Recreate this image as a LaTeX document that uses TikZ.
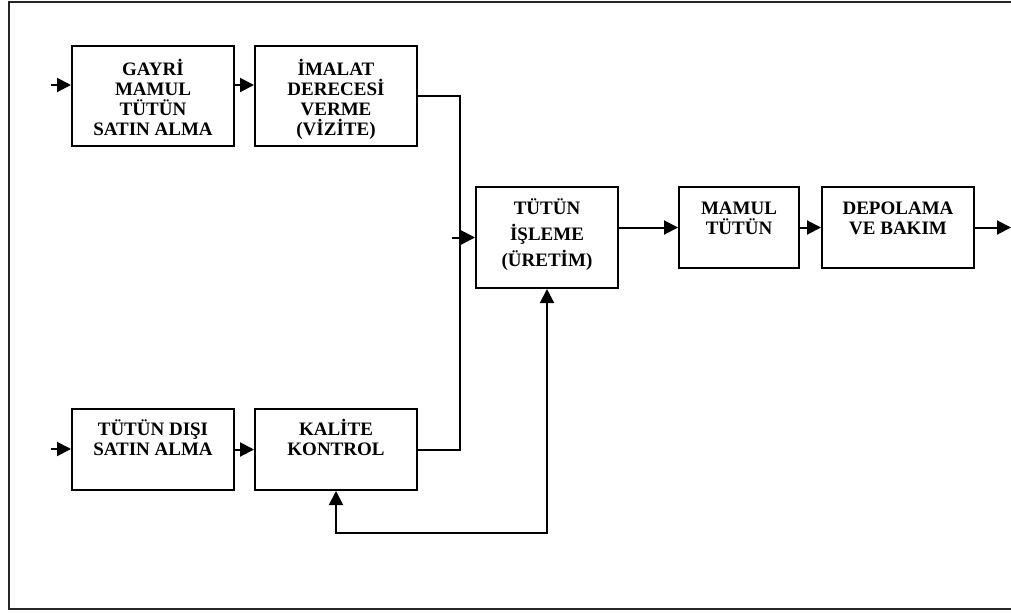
\documentclass[tikz,border=0pt]{standalone}
\usepackage{fontspec}
\setmainfont{Liberation Serif}
\usetikzlibrary{positioning, calc, arrows.meta}
\tikzset{
    blok/.style={rectangle, draw, line width=1pt, inner sep=0pt},
    yazi/.style={align=center, anchor=base, inner sep=0pt, font=\bfseries\fontsize{9.5}{10}\selectfont},
    ok/.style={-{Triangle[length=7pt, width=7pt]}, line width=1pt},
    ciftok/.style={{Triangle[length=7pt, width=7pt]}-{Triangle[length=7pt, width=7pt]}, line width=1pt},
    hat/.style={line width=1pt},
}
\begin{document}
\begin{tikzpicture}[x=0.5pt, y=-0.5pt, node distance=9.5pt]
    \useasboundingbox (0,0) rectangle (1011,612);
    % cerceve
    \draw[line width=1.1pt, black!85] (1016,2) -- (9,2) -- (9,609) -- (1016,609);

    % kutular
    \node[blok, minimum width=81pt, minimum height=50pt, anchor=north west] (gayri) at (71,45) {};
    \node[blok, minimum width=81pt, minimum height=50pt, right=of gayri] (imalat) {};
    \node[blok, minimum width=81pt, minimum height=40.5pt, anchor=north west] (disi) at (71,408) {};
    \node[blok, minimum width=81pt, minimum height=40.5pt, right=of disi] (kalite) {};
    \node[blok, minimum width=71pt, minimum height=50.5pt, anchor=north west] (isleme) at (475,186) {};
    \node[blok, minimum width=60pt, minimum height=40.5pt, anchor=north west] (mamul) at (678,186) {};
    \node[blok, minimum width=76pt, minimum height=40.5pt, right=10.5pt of mamul] (depo) {};

    % yazilar (son satirin tabani)
    \node[yazi] (gayri-y) at ($(gayri.north)+(0,90)$) {GAYRİ\\MAMUL\\TÜTÜN\\SATIN ALMA};
    \node[yazi] (imalat-y) at ($(imalat.north)+(0,90)$) {İMALAT\\DERECESİ\\VERME\\(VİZİTE)};
    \node[yazi] (disi-y) at ($(disi.north)+(0,47)$) {TÜTÜN DIŞI\\SATIN ALMA};
    \node[yazi] (kalite-y) at ($(kalite.north)+(0,47)$) {KALİTE\\KONTROL};
    \node[yazi, font=\bfseries\fontsize{9.5}{13}\selectfont] (isleme-y) at ($(isleme.north)+(0,80)$) {TÜTÜN\\İŞLEME\\(ÜRETİM)};
    \node[yazi] (mamul-y) at ($(mamul.north)+(0,48)$) {MAMUL\\TÜTÜN};
    \node[yazi] (depo-y) at ($(depo.north)+(0,48)$) {DEPOLAMA\\VE BAKIM};

    % baglantilar
    \coordinate (giris1) at (51,85);
    \coordinate (giris2) at (51,449);
    \coordinate (kol) at (460,0);
    \coordinate (uc) at (452,0);
    \coordinate (alt) at (0,533);
    \coordinate (cikis) at (1011,0);

    \draw[ok] (giris1) -- (giris1 -| gayri.west);
    \draw[ok] (gayri.east |- giris1) -- (imalat.west |- giris1);
    \draw[hat] (imalat.east) -| (kol |- kalite.east) -- (kalite.east);
    \draw[ok] (uc |- isleme.west) -- (isleme.west);
    \draw[ok] (isleme.east |- mamul.west) -- (mamul.west);
    \draw[ok] (mamul) -- (depo);
    \draw[ok] (depo) -- (cikis |- depo.east);
    \draw[ok] (giris2) -- (giris2 -| disi.west);
    \draw[ok] (disi) -- (kalite);
    \draw[ciftok] (isleme.south) -- (isleme.south |- alt) -| (kalite.south);
\end{tikzpicture}
\end{document}
